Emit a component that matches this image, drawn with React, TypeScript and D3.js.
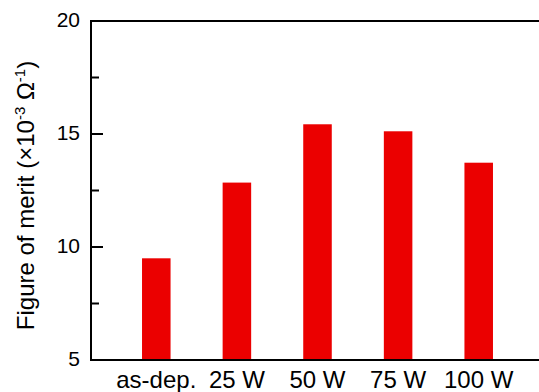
import React, { useEffect, useRef } from "react";
import * as d3 from "d3";

const categories = ["as-dep.", "25 W", "50 W", "75 W", "100 W"];
const meritValues = [9.5, 12.85, 15.43, 15.12, 13.73];
const majorTicks = [5, 10, 15, 20];
const minorTicks = [7.5, 12.5, 17.5];

const W = 539;
const H = 392;
const margin = { left: 91, top: 21, right: -5, bottom: 32 };

export default function App() {
  const ref = useRef<SVGSVGElement>(null);

  useEffect(() => {
    const svg = d3.select(ref.current);
    svg.selectAll("*").remove();
    const x0 = margin.left;
    const x1 = W - margin.right;
    const y0 = H - margin.bottom;
    const y1 = margin.top;
    const font = "Liberation Sans, Arial, sans-serif";

    const y = d3.scaleLinear().domain([5, 20]).range([y0, y1]);
    const x = d3
      .scaleBand<string>()
      .domain(categories)
      .range([x0, x1])
      .paddingInner(0.646)
      .paddingOuter(0.633);

    const g = svg.append("g");

    // bars
    g.selectAll("rect.bar")
      .data(categories)
      .join("rect")
      .attr("class", "bar")
      .attr("x", (d) => x(d)!)
      .attr("width", x.bandwidth())
      .attr("y", (_, i) => y(meritValues[i]))
      .attr("height", (_, i) => y0 - y(meritValues[i]))
      .attr("fill", "#eb0000");

    // frame: left, bottom, top
    g.append("path")
      .attr("d", `M${x1},${y1}H${x0}V${y0}H${x1}`)
      .attr("fill", "none")
      .attr("stroke", "#000")
      .attr("stroke-width", 2);

    // inward ticks
    g.selectAll("line.major")
      .data(majorTicks.filter((t) => t > 5 && t < 20))
      .join("line")
      .attr("x1", x0)
      .attr("x2", x0 + 12)
      .attr("y1", (d) => y(d))
      .attr("y2", (d) => y(d))
      .attr("stroke", "#000")
      .attr("stroke-width", 2);
    g.selectAll("line.minor")
      .data(minorTicks)
      .join("line")
      .attr("x1", x0)
      .attr("x2", x0 + 8)
      .attr("y1", (d) => y(d))
      .attr("y2", (d) => y(d))
      .attr("stroke", "#000")
      .attr("stroke-width", 2);

    // y tick labels
    g.selectAll("text.ytick")
      .data(majorTicks)
      .join("text")
      .attr("x", x0 - 11)
      .attr("y", (d) => y(d))
      .attr("dy", "0.3em")
      .attr("text-anchor", "end")
      .attr("font-family", font)
      .attr("font-size", 21)
      .text((d) => d);

    // x labels
    g.selectAll("text.xtick")
      .data(categories)
      .join("text")
      .attr("x", (d) => x(d)! + x.bandwidth() / 2)
      .attr("y", 388)
      .attr("text-anchor", "middle")
      .attr("font-family", font)
      .attr("font-size", 24)
      .text((d) => d);

    // y axis title
    const t = g
      .append("text")
      .attr("transform", `translate(34,195.5) rotate(-90)`)
      .attr("text-anchor", "middle")
      .attr("font-family", font)
      .attr("font-size", 24);
    t.append("tspan").text("Figure of merit (\u00d710");
    t.append("tspan").attr("font-size", 15).attr("dy", -9).text("-3");
    t.append("tspan").attr("dy", 9).text(" \u03a9");
    t.append("tspan").attr("font-size", 15).attr("dy", -9).text("-1");
    t.append("tspan").attr("dy", 9).text(")");
  }, []);

  return (
    <svg
      ref={ref}
      width={W}
      height={H}
      style={{ position: "absolute", left: 0, top: 0, background: "#fff" }}
    />
  );
}
